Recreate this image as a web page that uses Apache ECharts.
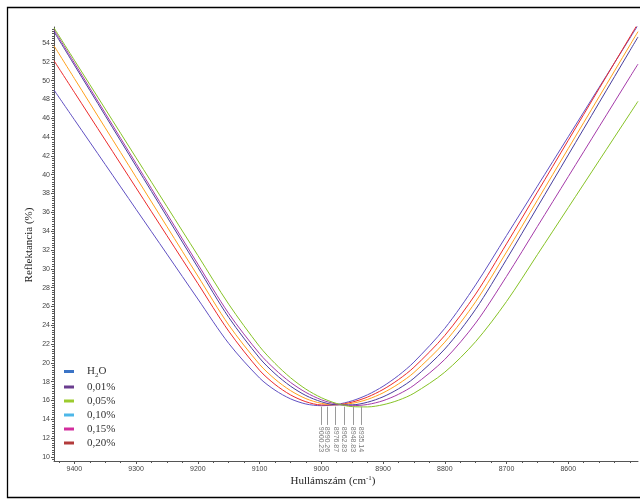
<!DOCTYPE html>
<html>
<head>
<meta charset="utf-8">
<script src="https://cdn.jsdelivr.net/npm/echarts@6/dist/echarts.min.js"></script>
<style>
html,body{margin:0;padding:0;background:#fff;}
#chart{width:640px;height:502px;}
</style>
</head>
<body>
<div id="chart"></div>
<script>
// ---- data ----
const wavenumbers = [9433, 9400, 9350, 9300, 9250, 9200, 9150, 9100, 9075, 9050, 9025, 9000, 8975, 8950, 8925, 8900, 8875, 8850, 8800, 8750, 8700, 8650, 8600, 8550, 8500, 8487];

const curveA = [49.0, 45.85, 41.09, 36.32, 31.56, 26.79, 22.07, 18.39, 17.1, 16.18, 15.63, 15.45, 15.58, 15.97, 16.61, 17.51, 18.66, 20.08, 23.67, 28.29, 33.53, 38.78, 44.03, 49.28, 54.53, 55.9];
const curveRed = [52.12, 48.76, 43.68, 38.6, 33.52, 28.44, 23.37, 19.21, 17.71, 16.6, 15.87, 15.53, 15.55, 15.83, 16.37, 17.17, 18.22, 19.53, 22.91, 27.31, 32.65, 38.15, 43.65, 49.15, 54.65, 56.08];
const curveOrange = [53.7, 50.23, 44.98, 39.73, 34.48, 29.23, 24.03, 19.84, 18.27, 17.06, 16.2, 15.7, 15.55, 15.7, 16.12, 16.81, 17.76, 18.97, 22.2, 26.5, 31.78, 37.28, 42.78, 48.28, 53.78, 55.21];
const curveB = [55.2, 51.65, 46.28, 40.9, 35.53, 30.15, 24.84, 20.51, 18.85, 17.53, 16.53, 15.87, 15.54, 15.54, 15.82, 16.39, 17.24, 18.37, 21.47, 25.7, 31.0, 36.55, 42.1, 47.65, 53.2, 54.64];
const curveMagenta = [55.41, 51.88, 46.54, 41.19, 35.85, 30.5, 25.25, 20.98, 19.31, 17.93, 16.86, 16.08, 15.62, 15.45, 15.58, 15.98, 16.66, 17.62, 20.37, 24.23, 29.19, 34.49, 39.79, 45.09, 50.39, 51.76];
const curveGreen = [55.6, 52.17, 46.99, 41.8, 36.61, 31.42, 26.24, 21.74, 19.94, 18.43, 17.21, 16.3, 15.68, 15.35, 15.32, 15.55, 16.03, 16.77, 19.01, 22.26, 26.52, 31.5, 36.5, 41.5, 46.5, 47.8];

const minima = [9000.23, 8990.26, 8976.87, 8962.83, 8948.83, 8935.14];
const minimaLabels = ['9000.23', '8990.26', '8976.87', '8962.83', '8948.83', '8935.14'];

const legendNames = ['H2O', '0,01%', '0,05%', '0,10%', '0,15%', '0,20%'];
const legendColors = ['#3b74c6', '#6a3d8f', '#9ccb2f', '#4db7e8', '#d22d9d', '#b33b3b'];

const xTickLabels = [9400, 9300, 9200, 9100, 9000, 8900, 8800, 8700, 8600];
const yTickLabels = [10, 12, 14, 16, 18, 20, 22, 24, 26, 28, 30, 32, 34, 36, 38, 40, 42, 44, 46, 48, 50, 52, 54];

// ---- build ----
const X_MIN = 8487, X_MAX = 9433, Y_MIN = 9.57, Y_MAX = 55.7;
const xMinor = []; for (let v = 8500; v <= 9425; v += 25) xMinor.push(v);
const yMinor = []; for (let v = 9.75; v <= 55.6; v += 0.25) yMinor.push(+v.toFixed(2));

const curves = [
  {name: 'c1', vals: curveA, color: '#6050c2'},
  {name: 'c2', vals: curveRed, color: '#ec2b2b'},
  {name: 'c3', vals: curveOrange, color: '#ffa21c'},
  {name: 'c4', vals: curveB, color: '#483e9e'},
  {name: 'c5', vals: curveMagenta, color: '#a53aa9'},
  {name: 'c6', vals: curveGreen, color: '#86c226'}
];

const tickFont = {fontFamily: '"Liberation Sans Narrow","Liberation Sans",Arial,sans-serif', fontSize: 7, color: '#444'};
const axisColor = '#555';

const series = [];
curves.forEach(c => {
  series.push({
    name: c.name, type: 'line', xAxisIndex: 0, yAxisIndex: 0,
    data: wavenumbers.map((w, i) => [w, c.vals[i]]),
    showSymbol: false, smooth: 0.3, clip: true,
    lineStyle: {color: c.color, width: 1}, itemStyle: {color: c.color},
    silent: true
  });
});
// annotation lines
series.push({
  name: 'ann', type: 'line', data: [], xAxisIndex: 0, yAxisIndex: 0,
  markLine: {
    silent: true, symbol: ['none', 'none'], animation: false,
    label: {show: false},
    lineStyle: {color: '#9a9a9a', type: 'solid', width: 1},
    data: minima.map(m => [{coord: [m, 15.35]}, {coord: [m, 13.4]}])
  }
});
// annotation texts
series.push({
  name: 'annText', type: 'scatter', xAxisIndex: 0, yAxisIndex: 0,
  symbolSize: 0, silent: true,
  data: minima.map(m => [m, 13.2]),
  label: {
    show: true, position: 'inside', rotate: -90, align: 'left', verticalAlign: 'middle',
    formatter: p => minimaLabels[p.dataIndex],
    fontFamily: '"Liberation Sans Narrow","Liberation Sans",Arial,sans-serif', fontSize: 7, color: '#555'
  }
});
// legend entries
legendNames.forEach((n, i) => {
  series.push({
    name: n, type: 'line', data: [], xAxisIndex: 0, yAxisIndex: 0,
    itemStyle: {color: legendColors[i]}, lineStyle: {color: legendColors[i]}
  });
});

const plain = v => String(v);

const option = {
  animation: false,
  backgroundColor: '#fff',
  grid: {left: 54, right: 2, top: 27, bottom: 41, containLabel: false},
  xAxis: [
    {
      type: 'value', inverse: true, min: X_MIN, max: X_MAX, position: 'bottom',
      axisLine: {show: true, lineStyle: {color: axisColor, width: 1}},
      axisTick: {show: true, customValues: xTickLabels, length: 3, lineStyle: {color: axisColor}},
      axisLabel: Object.assign({show: true, customValues: xTickLabels, margin: 5, formatter: plain}, tickFont),
      splitLine: {show: false}
    },
    {
      type: 'value', inverse: true, min: X_MIN, max: X_MAX, position: 'bottom',
      axisLine: {show: false},
      axisTick: {show: true, customValues: xMinor, length: 2, lineStyle: {color: axisColor}},
      axisLabel: {show: false}, splitLine: {show: false}
    }
  ],
  yAxis: [
    {
      type: 'value', min: Y_MIN, max: Y_MAX, position: 'left',
      axisLine: {show: true, lineStyle: {color: axisColor, width: 1}},
      axisTick: {show: true, customValues: yTickLabels, length: 3, lineStyle: {color: axisColor}},
      axisLabel: Object.assign({show: true, customValues: yTickLabels, margin: 4, formatter: plain}, tickFont),
      splitLine: {show: false}
    },
    {
      type: 'value', min: Y_MIN, max: Y_MAX, position: 'left',
      axisLine: {show: false},
      axisTick: {show: true, customValues: yMinor, length: 2, lineStyle: {color: axisColor}},
      axisLabel: {show: false}, splitLine: {show: false}
    }
  ],
  legend: {
    data: legendNames, orient: 'vertical', left: 64, top: 366,
    padding: 0, itemGap: 3, itemWidth: 10, itemHeight: 3, icon: 'rect',
    selectedMode: false,
    formatter: n => n === 'H2O' ? '{t|H}{s|2}{t|O}' : '{t|' + n + '}',
    textStyle: {
      padding: [0, 0, 0, 8],
      rich: {
        t: {fontFamily: '"Liberation Serif","Times New Roman",serif', fontSize: 11, color: '#333', lineHeight: 14},
        s: {fontFamily: '"Liberation Serif","Times New Roman",serif', fontSize: 7, color: '#333', lineHeight: 14, verticalAlign: 'bottom', padding: [5, 0, 0, 0]}
      }
    }
  },
  graphic: [
    {type: 'rect', silent: true, shape: {x: 7.5, y: 7.5, width: 700, height: 490}, style: {fill: 'none', stroke: '#000', lineWidth: 1.3}},
    {type: 'text', silent: true, x: 29, y: 245, rotation: Math.PI / 2,
     style: {text: 'Reflektancia (%)', font: '11px "Liberation Serif", "Times New Roman", serif', fill: '#222', align: 'center', verticalAlign: 'middle'}},
    {type: 'text', silent: true, x: 333, y: 481,
     style: {
       text: '{a|Hullámszám (cm}{b|-1}{a|)}', align: 'center', verticalAlign: 'middle',
       rich: {
         a: {fontFamily: '"Liberation Serif","Times New Roman",serif', fontSize: 11, fill: '#222'},
         b: {fontFamily: '"Liberation Serif","Times New Roman",serif', fontSize: 7, fill: '#222', verticalAlign: 'top', padding: [0, 0, 5, 0]}
       }
     }}
  ],
  series: series
};

const chart = echarts.init(document.getElementById('chart'), null, {renderer: 'canvas'});
chart.setOption(option);
</script>
</body>
</html>
